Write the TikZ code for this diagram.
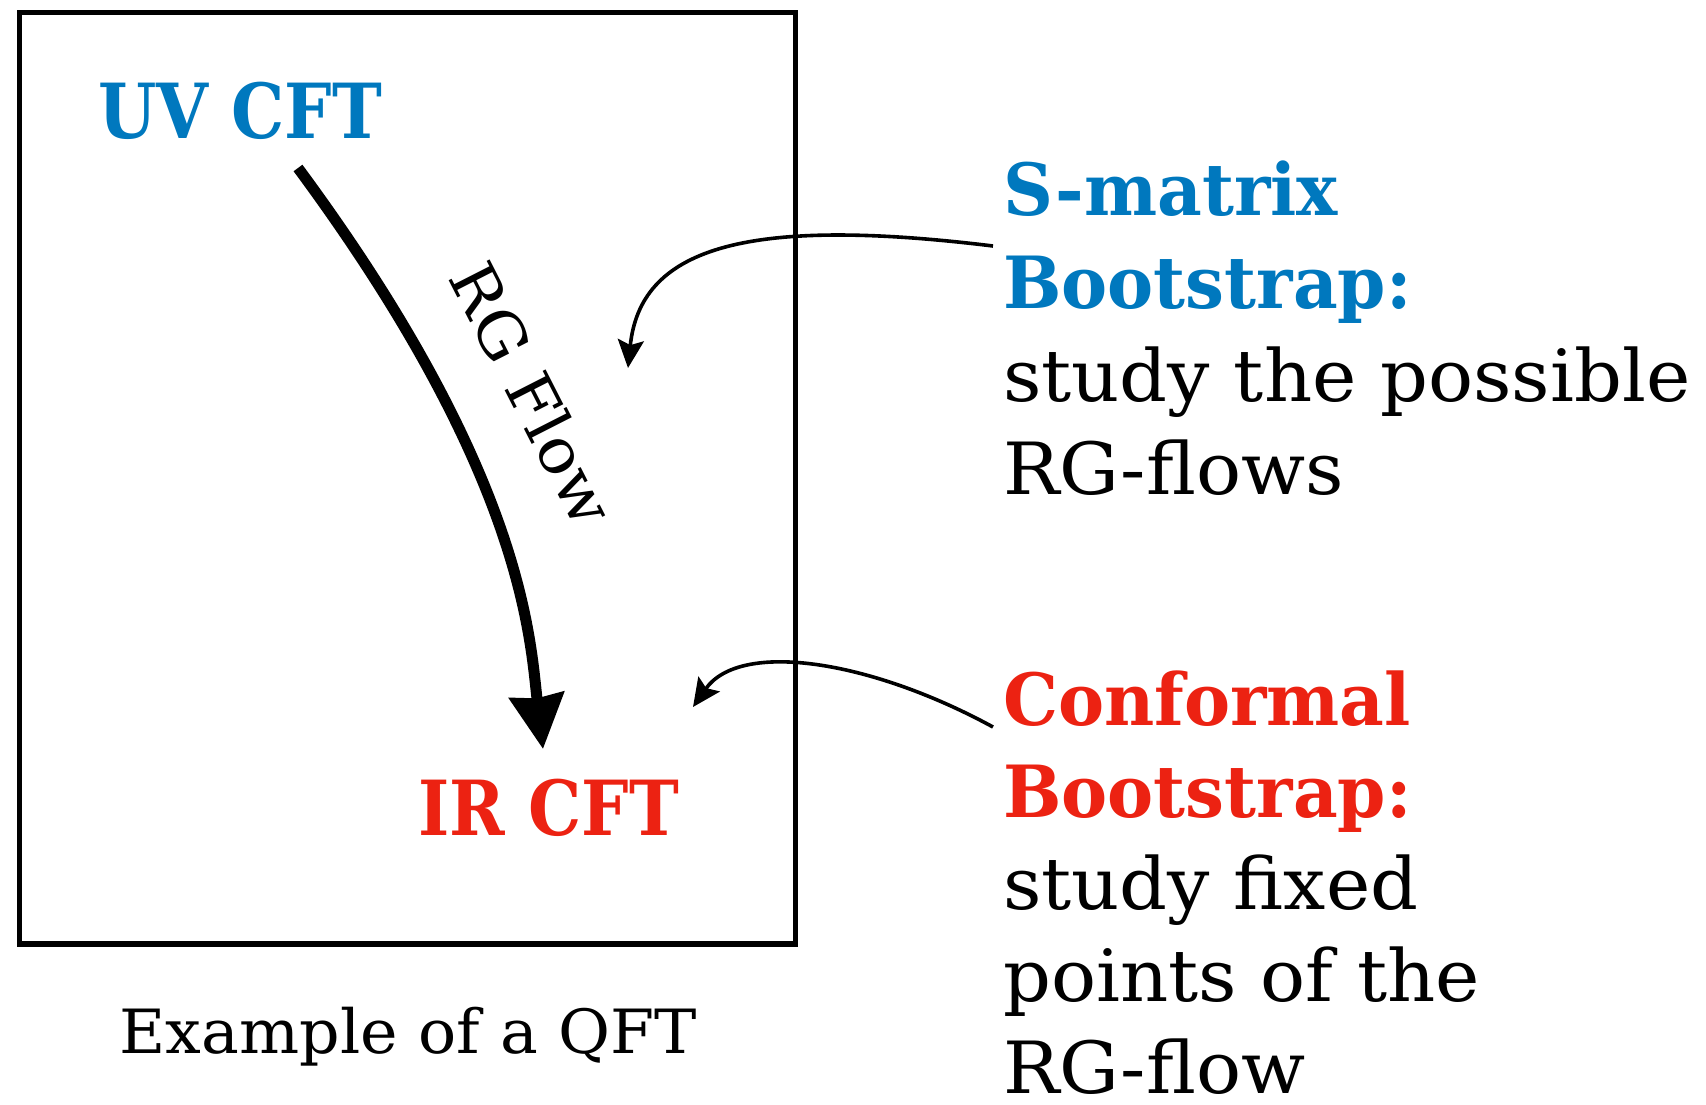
\documentclass[tikz,border=0pt]{standalone}
\usepackage{fontspec}
\setmainfont{DejaVu Serif}[FakeStretch=1.04, BoldFeatures={FakeStretch=0.96}]
\newfontfamily\cftfont{DejaVu Serif Bold}[FakeStretch=0.88]
\usetikzlibrary{arrows.meta}
\definecolor{uvblue}{RGB}{0,120,190}
\definecolor{irred}{RGB}{236,34,18}

\begin{document}
\begin{tikzpicture}[x=1pt,y=-1pt,
  txt/.style={inner sep=0pt, anchor=base west, font=\fontsize{72}{86}\selectfont},
  headline/.style={txt, font=\fontsize{72}{86}\selectfont\bfseries},
  cft/.style={inner sep=0pt, anchor=base west, font=\fontsize{76}{90}\cftfont},
  frame/.style={draw=black, line width=5.2pt},
  flow/.style={line width=11pt, -{Stealth[length=54pt, width=54pt, inset=3pt]}},
  pointer/.style={line width=3.6pt, -{Stealth[length=28pt, width=26pt, inset=5pt]}}
]
\useasboundingbox (0,0) rectangle (1706,1105);

% the QFT box
\draw[frame] (19.5,12.5) rectangle (795.7,944);

% fixed points
\node[cft, text=uvblue] (uv) at (98,139) {UV CFT};
\node[cft, text=irred] (ir) at (418,835) {IR CFT};

% RG flow between them
\coordinate (flowstart) at (298,168);
\coordinate (flowend) at (543,749);
\draw[flow] (flowstart) .. controls (525,475) and (530,640) .. (flowend);
\node[inner sep=0pt, rotate=-63, font=\fontsize{63}{74}\selectfont] (rglabel) at (533,394) {RG Flow};

% caption
\node[inner sep=0pt, anchor=base, font=\fontsize{61}{72}\selectfont] (caption) at (408,1053) {Example of a QFT};

% S-matrix bootstrap
\node[headline, text=uvblue] (sm1) at (1003,215) {S-matrix};
\node[headline, text=uvblue] (sm2) at (1003,308) {Bootstrap:};
\node[txt] (sm3) at (1003,401) {study the possible};
\node[txt] (sm4) at (1003,494) {RG-flows};

% conformal bootstrap
\node[headline, text=irred] (cb1) at (1003,725) {Conformal};
\node[headline, text=irred] (cb2) at (1003,817) {Bootstrap:};
\node[txt] (cb3) at (1003,909) {study fixed};
\node[txt] (cb4) at (1003,1001) {points of the};
\node[txt] (cb5) at (1003,1093) {RG-flow};

% pointers into the box
\coordinate (smfrom) at (993,246);
\coordinate (smto) at (628,368);
\coordinate (cbfrom) at (993,727);
\coordinate (cbto) at (693,707);
\draw[pointer] (smfrom) .. controls (740,215) and (640,250) .. (smto);
\draw[pointer] (cbfrom) .. controls (870,660) and (740,640) .. (cbto);
\end{tikzpicture}
\end{document}
